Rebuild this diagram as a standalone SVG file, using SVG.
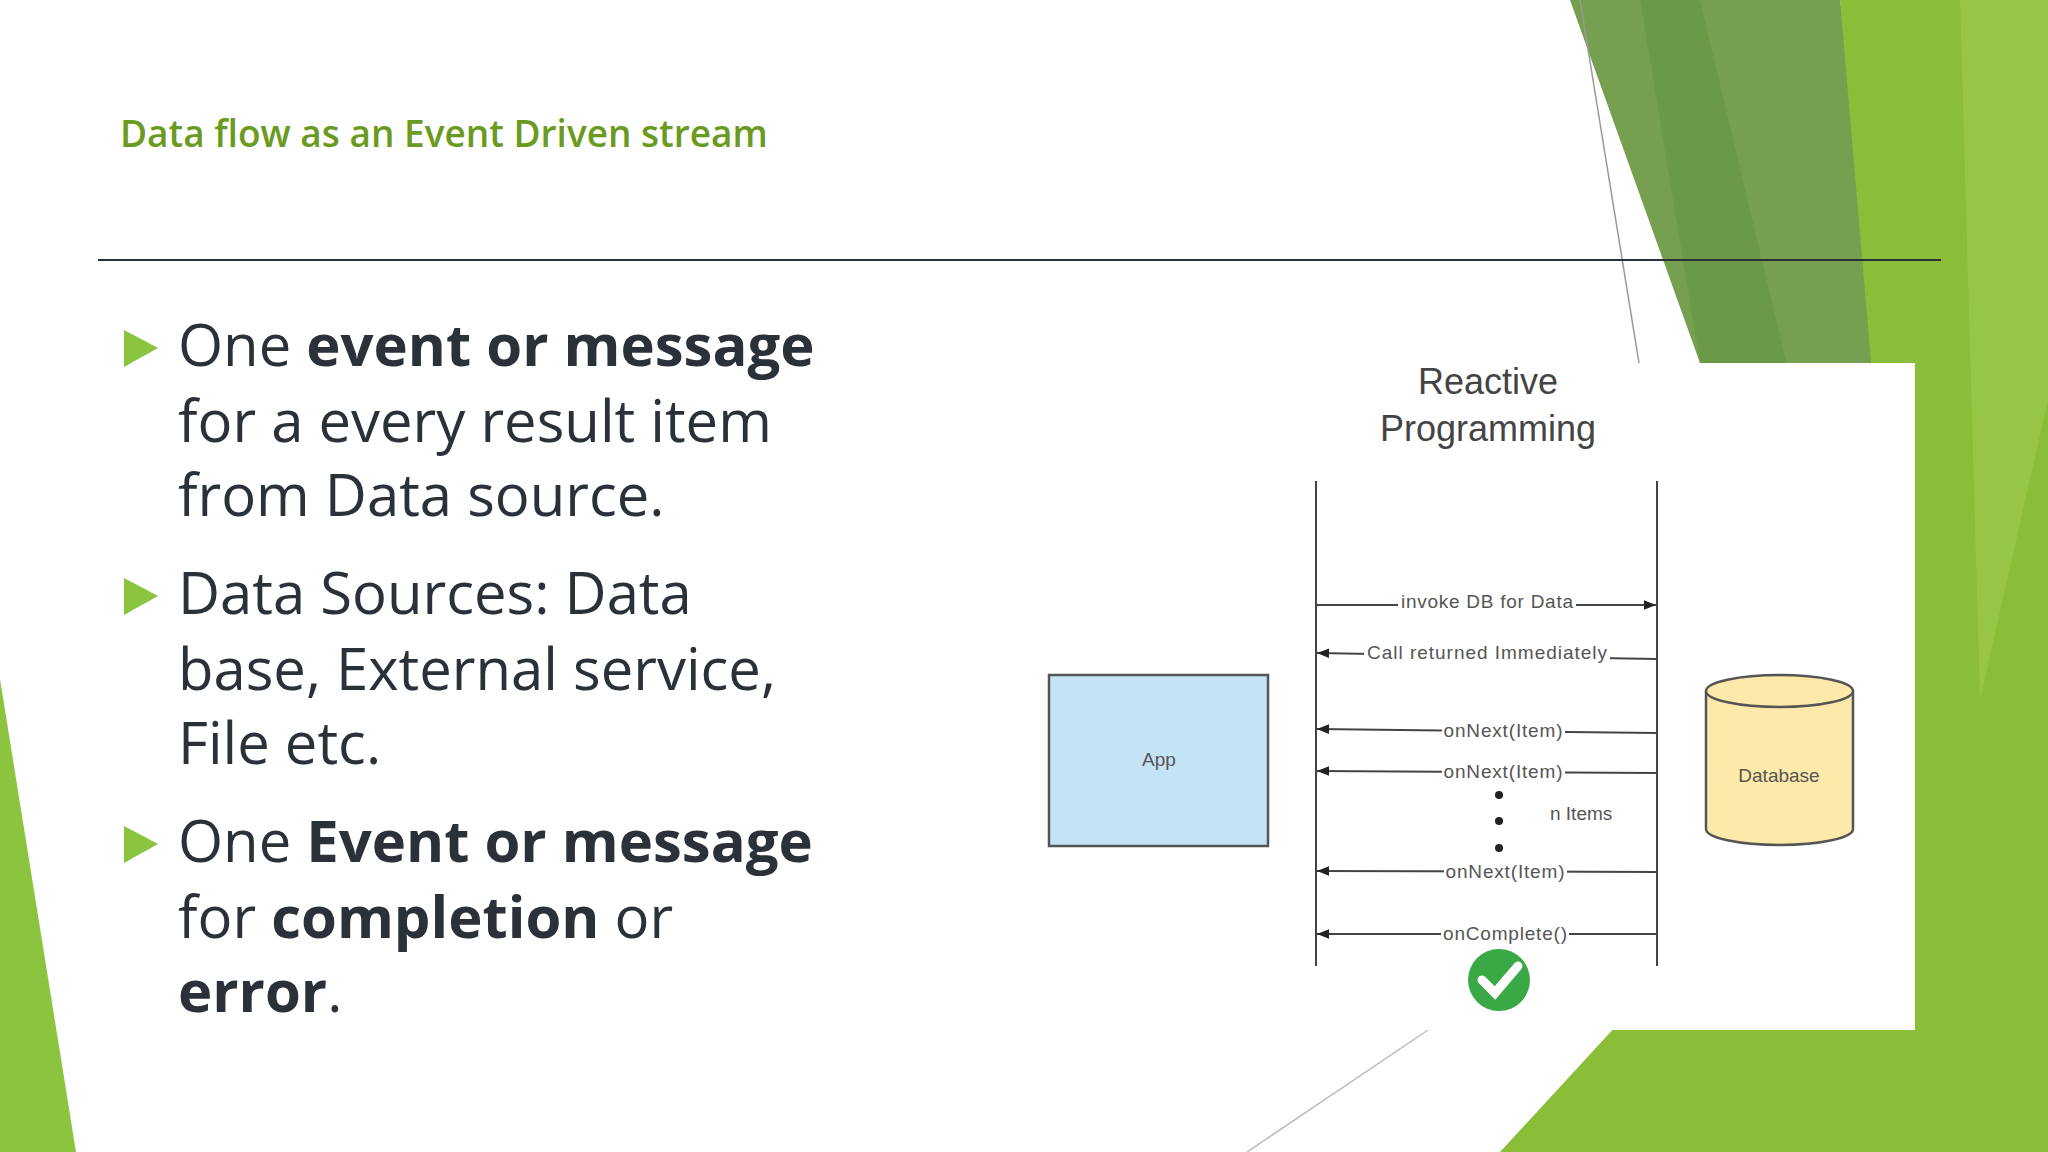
<svg xmlns="http://www.w3.org/2000/svg" width="2048" height="1152" viewBox="0 0 2048 1152">
<defs>
<style>
.b{font-family:"Open Sans","Noto Sans",sans-serif;font-size:58px;fill:#2b3138}
.bb{font-weight:bold}
.l{font-family:"Liberation Sans",Arial,sans-serif;font-size:19px;fill:#555}
.ln{stroke:#444;stroke-width:2;fill:none}
.tri{fill:#8bc53f}
</style>
<marker id="ah" viewBox="0 0 10 10" refX="10" refY="5" markerWidth="16" markerHeight="12" markerUnits="userSpaceOnUse" orient="auto"><path d="M0,1L10,5L0,9z" fill="#222"/></marker>
</defs>
<rect width="2048" height="1152" fill="#fff"/>
<g id="background">
<polygon points="1570,0 1840,0 1960,800 1700,363" fill="#76a04f"/>
<polygon points="1840,0 2048,0 2048,1152 1500,1152 1640,1000 1900,700" fill="#8abd38"/>
<polygon points="1640,0 1700,0 1800,420 1700,363" fill="#6a9a48"/>
<polygon points="1960,0 2048,0 2048,400 1980,700" fill="#97c545"/>
<polygon points="0,679 76,1152 0,1152" fill="#8bc53f"/>
<line x1="1580" y1="0" x2="1639" y2="363" stroke="#999" stroke-width="1.5"/>
<line x1="1428" y1="1030" x2="1247" y2="1152" stroke="#bbb" stroke-width="1.5"/>
<rect x="1000" y="363" width="915" height="667" fill="#fff"/>
</g>
<g id="title"><text x="120" y="147" font-family="Open Sans,Noto Sans,sans-serif" font-size="37" font-weight="600" fill="#6a9a1f">Data flow as an Event Driven stream</text></g>
<line x1="98" y1="260" x2="1941" y2="260" stroke="#2b3138" stroke-width="2"/>
<g id="bullets">
<polygon class="tri" points="124,330 158,348 124,367"/>
<polygon class="tri" points="124,578 158,596 124,615"/>
<polygon class="tri" points="124,826 158,844 124,863"/>
<text class="b" x="178" y="366">One <tspan class="bb">event or message</tspan></text>
<text class="b" x="178" y="442">for a every result item</text>
<text class="b" x="178" y="516">from Data source.</text>
<text class="b" x="178" y="614">Data Sources: Data</text>
<text class="b" x="178" y="690">base, External service,</text>
<text class="b" x="178" y="764">File etc.</text>
<text class="b" x="178" y="862">One <tspan class="bb">Event or message</tspan></text>
<text class="b" x="178" y="938">for <tspan class="bb">completion</tspan> or</text>
<text class="b" x="178" y="1012"><tspan class="bb">error</tspan>.</text>
</g>
<g id="diagram-title" font-family="Liberation Sans,Arial,sans-serif" font-size="36" fill="#444" text-anchor="middle">
<text x="1488" y="394">Reactive</text>
<text x="1488" y="441">Programming</text>
</g>
<g id="app"><rect x="1049" y="675" width="219" height="171" fill="#c5e3f6" stroke="#555" stroke-width="2.5"/><text class="l" x="1159" y="766" text-anchor="middle" fill="#335">App</text></g>
<g id="database">
<path d="M1706,691 L1706,829 A73.5,16 0 0 0 1853,829 L1853,691" fill="#fde9a9" stroke="#555" stroke-width="2.5"/>
<ellipse cx="1779.5" cy="691" rx="73.5" ry="16" fill="#fde9a9" stroke="#555" stroke-width="2.5"/>
<text class="l" x="1779" y="782" text-anchor="middle">Database</text>
</g>
<g id="connectors">
<line class="ln" x1="1316" y1="481" x2="1316" y2="966"/>
<line class="ln" x1="1657" y1="481" x2="1657" y2="966"/>
<line class="ln" x1="1316" y1="605" x2="1656" y2="605" marker-end="url(#ah)"/>
<line class="ln" x1="1657" y1="659" x2="1317" y2="653" marker-end="url(#ah)"/>
<line class="ln" x1="1657" y1="733" x2="1317" y2="729" marker-end="url(#ah)"/>
<line class="ln" x1="1657" y1="773" x2="1317" y2="771" marker-end="url(#ah)"/>
<line class="ln" x1="1657" y1="872" x2="1317" y2="871" marker-end="url(#ah)"/>
<line class="ln" x1="1657" y1="934" x2="1317" y2="934" marker-end="url(#ah)"/>
</g>
<g id="labels" class="l">
<rect x="1398" y="590" width="178" height="22" fill="#fff"/>
<text class="l" x="1487" y="608" text-anchor="middle" textLength="172">invoke DB for Data</text>
<rect x="1364" y="640" width="246" height="22" fill="#fff"/>
<text class="l" x="1487" y="659" text-anchor="middle" textLength="240">Call returned Immediately</text>
<rect x="1442" y="717" width="123" height="22" fill="#fff"/>
<text class="l" x="1503" y="737" text-anchor="middle" textLength="119">onNext(Item)</text>
<rect x="1442" y="759" width="123" height="22" fill="#fff"/>
<text class="l" x="1503" y="778" text-anchor="middle" textLength="119">onNext(Item)</text>
<rect x="1444" y="860" width="123" height="22" fill="#fff"/>
<text class="l" x="1505" y="878" text-anchor="middle" textLength="119">onNext(Item)</text>
<rect x="1441" y="922" width="128" height="22" fill="#fff"/>
<text class="l" x="1505" y="940" text-anchor="middle" textLength="124">onComplete()</text>
<text class="l" x="1550" y="820">n Items</text>
<circle cx="1499" cy="795" r="4" fill="#222"/>
<circle cx="1499" cy="821" r="4" fill="#222"/>
<circle cx="1499" cy="848" r="4" fill="#222"/>
</g>
<g id="check"><circle cx="1499" cy="980" r="31" fill="#3aa845"/><path d="M1482,980 L1495,993 L1518,966" stroke="#fff" stroke-width="9" fill="none" stroke-linecap="round"/></g>
</svg>
